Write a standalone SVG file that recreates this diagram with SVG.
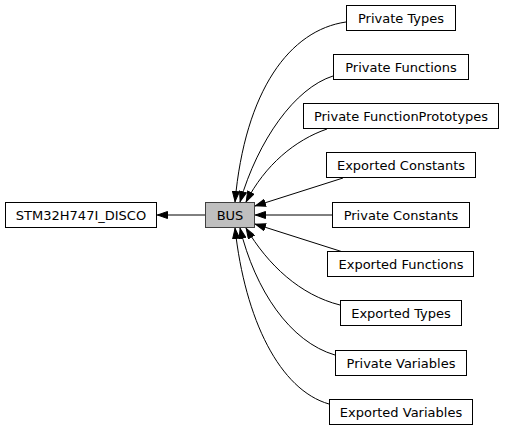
<svg xmlns="http://www.w3.org/2000/svg" width="505" height="431" viewBox="0 0 505 431">
<defs>
<style>
.box{fill:#ffffff;stroke:#000000;stroke-width:1}
.cur{fill:#bfbfbf;stroke:#404040;stroke-width:1}
text{font-family:"DejaVu Sans","Liberation Sans",sans-serif;font-size:13px;fill:#000000;text-anchor:middle}
.edge{fill:none;stroke:#000000;stroke-width:1;marker-end:url(#ah)}
</style>
<marker id="ah" viewBox="0 0 11 8" refX="11" refY="4" markerWidth="11" markerHeight="8" markerUnits="userSpaceOnUse" orient="auto">
<polygon points="0.5,0.5 10.5,4 0.5,7.5" fill="#000000" stroke="#000000" stroke-width="1"/>
</marker>
</defs>
<rect width="505" height="431" fill="#ffffff"/>
<g id="edges">
<path class="edge" d="M205,215 L157,215"/>
<path class="edge" d="M346,22 C290,30 245,90 235,202"/>
<path class="edge" d="M333,76 C295,88 258,140 240,202"/>
<path class="edge" d="M327,129 C295,140 265,165 246,202"/>
<path class="edge" d="M343,178 L255,206"/>
<path class="edge" d="M332,215 L255,215"/>
<path class="edge" d="M343,252 L255,224"/>
<path class="edge" d="M340,305 C300,295 268,265 246,228"/>
<path class="edge" d="M335,355 C290,342 255,290 240,228"/>
<path class="edge" d="M329,404 C280,390 245,320 235,228"/>
</g>
<g id="node-stm32"><rect class="box" x="5.5" y="202.5" width="151" height="25"/><text x="81" y="219.5">STM32H747I_DISCO</text></g>
<g id="node-bus"><rect class="cur" x="205.5" y="202.5" width="49" height="25"/><text x="230" y="219.5">BUS</text></g>
<g id="node-private-types"><rect class="box" x="346.5" y="5.5" width="109" height="25"/><text x="401" y="22.5">Private Types</text></g>
<g id="node-private-functions"><rect class="box" x="333.5" y="54.5" width="135" height="25"/><text x="401" y="71.5">Private Functions</text></g>
<g id="node-private-functionprototypes"><rect class="box" x="303.5" y="103.5" width="195" height="25"/><text x="401" y="120.5">Private FunctionPrototypes</text></g>
<g id="node-exported-constants"><rect class="box" x="326.5" y="152.5" width="149" height="25"/><text x="401" y="169.5">Exported Constants</text></g>
<g id="node-private-constants"><rect class="box" x="332.5" y="202.5" width="137" height="25"/><text x="401" y="219.5">Private Constants</text></g>
<g id="node-exported-functions"><rect class="box" x="327.5" y="251.5" width="146" height="25"/><text x="401" y="268.5">Exported Functions</text></g>
<g id="node-exported-types"><rect class="box" x="340.5" y="300.5" width="121" height="25"/><text x="401" y="317.5">Exported Types</text></g>
<g id="node-private-variables"><rect class="box" x="335.5" y="350.5" width="131" height="25"/><text x="401" y="367.5">Private Variables</text></g>
<g id="node-exported-variables"><rect class="box" x="329.5" y="399.5" width="143" height="25"/><text x="401" y="416.5">Exported Variables</text></g>
</svg>
